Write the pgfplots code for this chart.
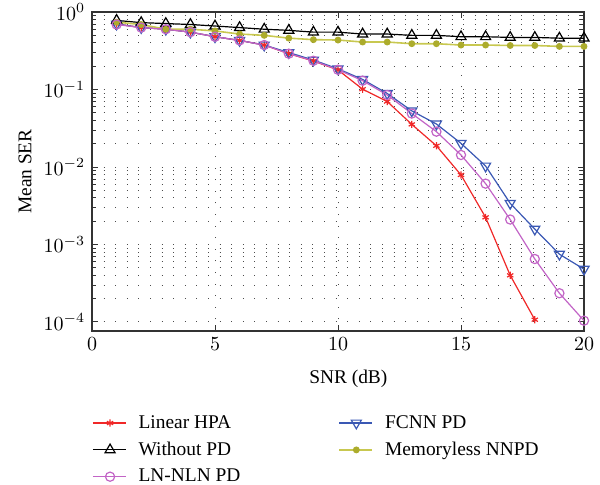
\documentclass[border=0pt]{standalone}
\usepackage{pgfplots}
\pgfplotsset{compat=1.18}
\usepackage{fontspec}
\setmainfont{Liberation Serif}
\definecolor{cred}{HTML}{F02828}
\definecolor{cpink}{HTML}{C264C6}
\definecolor{cblue}{HTML}{3A58B4}
\definecolor{cyel}{HTML}{C8C850}
\definecolor{cyeldot}{HTML}{ACAC2C}
\begin{document}
\fontsize{9.7}{11.6}\selectfont
\begin{tikzpicture}
\useasboundingbox (0,0) rectangle (300pt,242pt);
\begin{axis}[
  at={(46pt,76.5pt)}, anchor=south west,
  scale only axis, width=246pt, height=159.5pt,
  xmin=0, xmax=20, ymode=log, ymin=7.65e-5, ymax=1,
  xtick={0,5,10,15,20},
  ytick={1e-4,1e-3,1e-2,1e-1,1},
  minor ytick={2e-4,3e-4,4e-4,5e-4,6e-4,7e-4,8e-4,9e-4,2e-3,3e-3,4e-3,5e-3,6e-3,7e-3,8e-3,9e-3,2e-2,3e-2,4e-2,5e-2,6e-2,7e-2,8e-2,9e-2,2e-1,3e-1,4e-1,5e-1,6e-1,7e-1,8e-1,9e-1},
  xmajorgrids, ymajorgrids, yminorgrids,
  major grid style={dash pattern=on 0.5pt off 5.3pt, black!70, line width=0.5pt},
  minor grid style={dash pattern=on 0.5pt off 5.3pt, black!70, line width=0.5pt},
  tick align=inside,
  major tick length=3pt, minor tick length=1.8pt,
  every tick/.style={black!80, line width=0.5pt},
  axis line style={black!80, line width=0.6pt},
  tick label style={font=\fontsize{9.7}{11.6}\selectfont},
  label style={font=\fontsize{9.7}{11.6}\selectfont},
  xlabel={SNR (dB)}, ylabel={Mean SER},
  every axis y label/.style={at={(axis description cs:-0.136,0.5)}, rotate=90, anchor=center},
  every axis x label/.style={at={(axis description cs:0.521,-0.150)}, anchor=center},
  legend columns=2,
  legend cell align=left,
  legend style={at={(axis description cs:0,-0.25)}, anchor=north west, draw=none, fill=none,
    inner sep=0pt, font=\fontsize{9.7}{11.6}\selectfont, row sep=1.4pt,
    /tikz/column 1/.style={column sep=4pt},
    /tikz/column 2/.style={column sep=47pt},
    /tikz/column 3/.style={column sep=4pt}},
  legend image code/.code={\draw[mark repeat=2,mark phase=2] plot coordinates {(0cm,0cm) (0.3cm,0cm) (0.58cm,0cm)};},
]
\addplot[color=cred, line width=0.6pt, mark=asterisk, mark size=1.8pt, mark options={line width=0.6pt}] coordinates {
(1,0.70) (2,0.63) (3,0.60) (4,0.55) (5,0.48) (6,0.43) (7,0.375) (8,0.29) (9,0.233) (10,0.179)
(11,0.101) (12,0.070) (13,0.0355) (14,0.0188) (15,0.0079) (16,0.00224) (17,0.00040) (18,0.000107)};
\addlegendentry{Linear HPA}
\addplot[color=cblue, line width=0.6pt, mark=triangle, mark size=2.9pt, mark options={rotate=180, line width=0.6pt}] coordinates {
(1,0.70) (2,0.63) (3,0.60) (4,0.55) (5,0.48) (6,0.43) (7,0.375) (8,0.30) (9,0.24) (10,0.185)
(11,0.135) (12,0.089) (13,0.053) (14,0.0359) (15,0.0202) (16,0.0103) (17,0.0034) (18,0.00158) (19,0.00075) (20,0.00048)};
\addlegendentry{FCNN PD}
\addplot[color=black, line width=0.6pt, mark=triangle, mark size=2.9pt, mark options={line width=0.6pt}] coordinates {
(1,0.78) (2,0.73) (3,0.71) (4,0.69) (5,0.66) (6,0.63) (7,0.60) (8,0.58) (9,0.55) (10,0.55)
(11,0.52) (12,0.52) (13,0.50) (14,0.50) (15,0.48) (16,0.48) (17,0.47) (18,0.47) (19,0.46) (20,0.46)};
\addlegendentry{Without PD}
\addplot[color=cyel, line width=0.8pt, mark=*, mark size=1.3pt, mark options={fill=cyeldot, draw=cyeldot}] coordinates {
(1,0.74) (2,0.69) (3,0.60) (4,0.60) (5,0.57) (6,0.52) (7,0.50) (8,0.46) (9,0.44) (10,0.435)
(11,0.41) (12,0.41) (13,0.39) (14,0.39) (15,0.375) (16,0.375) (17,0.37) (18,0.37) (19,0.36) (20,0.36)};
\addlegendentry{Memoryless NNPD}
\addplot[color=cpink, line width=0.6pt, mark=o, mark size=2.3pt, mark options={line width=0.6pt}] coordinates {
(1,0.69) (2,0.63) (3,0.60) (4,0.55) (5,0.48) (6,0.43) (7,0.375) (8,0.29) (9,0.235) (10,0.18)
(11,0.13) (12,0.085) (13,0.049) (14,0.0286) (15,0.0143) (16,0.0061) (17,0.0021) (18,0.00065) (19,0.000235) (20,0.000104)};
\addlegendentry{LN-NLN PD}
\end{axis}
\end{tikzpicture}
\end{document}
